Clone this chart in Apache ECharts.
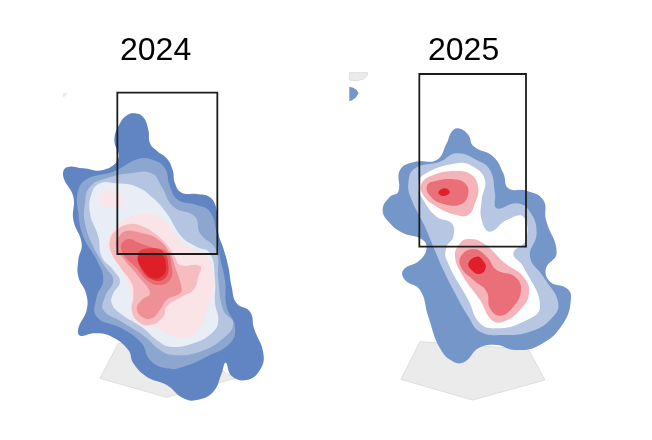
<!DOCTYPE html>
<html><head><meta charset="utf-8">
<style>html,body{margin:0;padding:0;background:#fff}#c{width:652px;height:440px}#c canvas{filter:blur(.4px)}</style>
<script src="https://cdn.jsdelivr.net/npm/echarts@6/dist/echarts.min.js"></script>
</head><body><div id="c"></div>
<script>
const titles = ['2024', '2025'];
// 2024 contours (panel units)
const plate24 = [[205,790],[150,895],[350,952],[555,895],[400,800]];
const corner24 = [[38,40],[52,38],[48,46],[42,52],[38,52]];
const a1 = [[255,100],[280,112],[295,150],[300,190],[320,212],[350,235],[368,270],[375,310],[395,338],[440,342],[480,352],[500,390],[505,460],[520,505],[535,560],[545,620],[560,670],[600,695],[612,745],[640,820],[630,870],[590,900],[545,888],[527,848],[515,880],[490,935],[440,960],[400,955],[350,915],[290,890],[250,850],[235,810],[185,770],[135,760],[90,767],[85,745],[110,690],[108,640],[85,590],[85,540],[95,490],[70,420],[70,350],[40,290],[50,262],[100,265],[160,270],[205,235],[193,180],[210,130],[232,105]];
const a2 = [[265,237],[310,240],[345,265],[360,320],[385,360],[440,375],[480,395],[500,460],[510,530],[525,600],[530,680],[555,740],[540,790],[470,830],[400,860],[350,865],[300,840],[275,790],[215,745],[140,710],[140,650],[160,600],[140,540],[100,470],[85,400],[85,330],[115,295],[190,275]];
const a3 = [[240,280],[305,280],[335,320],[370,380],[435,410],[450,460],[498,510],[505,600],[520,690],[550,730],[520,775],[450,815],[370,825],[330,810],[285,770],[215,725],[160,690],[165,650],[190,600],[165,560],[130,500],[105,430],[105,370],[120,320],[170,295]];
const a4 = [[150,310],[200,310],[260,320],[310,355],[350,400],[395,470],[440,500],[480,520],[495,600],[495,670],[505,720],[490,755],[430,790],[360,800],[320,780],[280,745],[210,700],[185,670],[190,640],[210,605],[190,570],[155,530],[145,470],[120,400],[125,340]];
const a5a = [[150,340],[190,330],[215,350],[215,375],[175,385],[150,365]];
const a5 = [[290,400],[340,420],[380,470],[420,505],[470,525],[490,590],[485,650],[470,690],[460,730],[420,770],[360,765],[320,745],[255,725],[245,690],[245,650],[225,590],[190,530],[172,490],[210,430]];
const a6 = [[180,480],[200,450],[240,432],[280,440],[320,465],[355,500],[375,530],[390,555],[450,558],[445,590],[430,630],[395,650],[350,680],[340,710],[300,735],[265,725],[245,690],[250,650],[245,610],[210,560],[185,520]];
const a7 = [[197,495],[207,470],[228,453],[270,458],[320,475],[360,520],[375,560],[395,625],[390,640],[350,660],[330,690],[305,715],[275,710],[260,685],[275,660],[300,640],[270,595],[220,535]];
const a8 = [[213,505],[218,487],[238,477],[265,488],[310,503],[350,515],[365,560],[360,600],[325,615],[290,600],[260,565],[225,530]];
const a9 = [[265,520],[300,505],[340,515],[355,555],[345,595],[310,600],[275,570]];
const a10 = [[265,530],[300,518],[335,525],[348,555],[340,585],[310,595],[280,570]];
const box24 = [[202,38],[502,522]];
// 2025 contours (panel units)
const plate25 = [[240,845],[565,868],[615,960],[397,1020],[183,958]];
const corner25 = [[28,38],[83,38],[80,48],[70,57],[50,62],[28,60]];
const dot25 = [[28,80],[40,83],[50,90],[56,100],[48,112],[38,120],[28,124]];
const b1 = [[355,205],[385,225],[400,258],[460,290],[490,340],[505,385],[560,392],[610,420],[618,480],[650,578],[618,625],[630,665],[680,685],[693,715],[670,790],[600,855],[525,870],[470,855],[415,865],[375,905],[340,905],[300,865],[265,770],[240,690],[195,660],[190,630],[240,600],[260,560],[240,535],[190,520],[150,490],[128,450],[150,410],[175,395],[180,330],[225,305],[290,300],[320,250],[335,215]];
const b2 = [[350,280],[410,300],[450,330],[465,400],[470,445],[530,430],[570,455],[590,520],[570,590],[610,650],[655,730],[630,780],[570,815],[490,825],[420,815],[385,770],[340,690],[310,630],[280,560],[250,490],[215,420],[205,370],[225,325],[300,305]];
const b3 = [[350,310],[400,320],[435,360],[425,420],[425,480],[450,515],[500,480],[550,470],[558,540],[520,580],[550,620],[600,740],[550,785],[470,805],[420,790],[385,720],[320,600],[320,560],[340,530],[335,490],[290,470],[250,420],[235,380],[250,345]];
const b4a = [[345,333],[395,345],[415,385],[405,430],[385,465],[350,465],[290,440],[250,405],[245,370],[280,345]];
const b4b = [[385,537],[430,550],[495,610],[550,650],[567,700],[540,750],[490,785],[455,780],[420,720],[370,650],[345,590],[360,550]];
const b5a = [[340,358],[375,370],[385,400],[365,432],[310,432],[268,405],[262,375],[290,362]];
const b5b = [[400,567],[440,590],[470,630],[525,650],[543,690],[520,740],[480,767],[450,745],[440,695],[400,660],[365,625],[362,590]];
const b6a = [[312,385],[328,392],[325,403],[305,407],[295,397]];
const b6b = [[410,590],[430,603],[437,625],[420,642],[397,632],[385,610]];
const box25 = [[238,42],[558,560]];

const FLAT = 0, CURVE = 0.45;
const layers = [
 [0,corner24,'#ebebeb',FLAT],[0,plate24,'#ebebeb',FLAT,'#dedede'],
 [0,a1,'#6185c3'],[0,a2,'#8ca6d0'],[0,a3,'#b5c5e1'],[0,a4,'#e8edf6'],[0,a5a,'#fae6ea'],[0,a5,'#fbe4e7'],
 [0,a6,'#f6bcc0'],[0,a7,'#ef9097'],[0,a8,'#e86a72'],[0,a9,'#e13e46'],[0,a10,'#de1f27'],
 [1,corner25,'#ebebeb',FLAT,'#dedede'],[1,plate25,'#ebebeb',FLAT,'#dedede'],[1,dot25,'#7596c9',FLAT],
 [1,b1,'#7596c9'],[1,b2,'#b7c6e2'],[1,b3,'#ffffff'],[1,b4a,'#f4b4ba'],[1,b4b,'#f4b4ba'],
 [1,b5a,'#ea6f79'],[1,b5b,'#ea6f79'],[1,b6a,'#e01f2a'],[1,b6b,'#e01f2a']
];
const series = layers.map(([p,pts,color,sm,edge]) => ({
  type:'custom', xAxisIndex:p, yAxisIndex:p, clip:false, silent:true, animation:false,
  data:pts, encode:{x:0,y:1},
  renderItem:(params,api)=> params.dataIndex===0 ? {
    type:'polygon',
    shape:{points:pts.map(q=>api.coord(q)), smooth: sm===FLAT?0:CURVE},
    style:{fill:color, stroke:edge||null, lineWidth:edge?1:0}
  } : null
}));
[box24,box25].forEach((b,p)=>series.push({
  type:'custom', xAxisIndex:p, yAxisIndex:p, clip:false, silent:true, animation:false,
  data:b, encode:{x:0,y:1},
  renderItem:(params,api)=>{
    if(params.dataIndex!==0) return null;
    const s=api.coord(b[0]), e=api.coord(b[1]);
    return {type:'rect',shape:{x:s[0],y:s[1],width:e[0]-s[0],height:e[1]-s[1]},style:{fill:'none',stroke:'#1c1c1c',lineWidth:1.8}};
  }
}));
const ax = (max,inv)=>({type:'value',min:0,max,inverse:inv,show:false,splitLine:{show:false}});
const chart = echarts.init(document.getElementById('c'),null,{renderer:'canvas'});
const titleStyle = {fontFamily:'Liberation Sans',fontSize:32,fontWeight:'normal',color:'#000'};
chart.setOption({
  animation:false, backgroundColor:'#fff',
  title:[
   {text:titles[0],left:115,top:30,textStyle:titleStyle},
   {text:titles[1],left:423,top:30,textStyle:titleStyle}
  ],
  grid:[{left:50,top:80,width:230,height:330},{left:340,top:60,width:240,height:350}],
  xAxis:[ax(690,false),ax(720,false)].map((a,i)=>({...a,gridIndex:i})),
  yAxis:[ax(990,true),ax(1050,true)].map((a,i)=>({...a,gridIndex:i})),
  series
});
</script></body></html>
